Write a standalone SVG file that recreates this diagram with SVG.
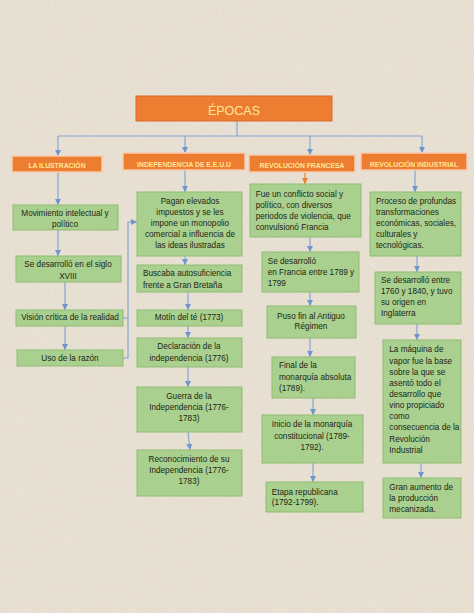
<svg xmlns="http://www.w3.org/2000/svg" width="474" height="613" viewBox="0 0 474 613">
<style>
.box{fill:#A9D08E;stroke:#8FBD72;stroke-width:1}
.hdr{fill:#ED7D31;stroke:#F8CBAD;stroke-width:1.5}
.t{font-family:"Liberation Sans",Arial,sans-serif;font-size:8.2px;fill:#1E2616}
.m{text-anchor:middle}
.h{font-family:"Liberation Sans",Arial,sans-serif;font-size:6.8px;font-weight:bold;fill:#FFE699;text-anchor:middle}
.c{fill:none;stroke:#84A7D8;stroke-width:1.2}
.co{fill:none;stroke:#ED7D31;stroke-width:1.2}
</style>
<defs>
<marker id="a" markerUnits="userSpaceOnUse" markerWidth="6" markerHeight="6" refX="6" refY="3" orient="auto"><path d="M0,0 L6,3 L0,6 z" fill="#6F95CF"/></marker>
<marker id="ao" markerUnits="userSpaceOnUse" markerWidth="6" markerHeight="6" refX="6" refY="3" orient="auto"><path d="M0,0 L6,3 L0,6 z" fill="#ED7D31"/></marker>
<filter id="noise" x="0" y="0" width="100%" height="100%"><feTurbulence type="fractalNoise" baseFrequency="0.85" numOctaves="2" seed="4"/><feColorMatrix type="matrix" values="0 0 0 0 0.55 0 0 0 0 0.5 0 0 0 0 0.42 1.4 0 0 0 -0.6"/></filter>
</defs>
<rect width="474" height="613" fill="#E8E1D4"/>
<rect width="474" height="613" filter="url(#noise)" opacity="0.35"/>

<g id="connectors">
<path class="c" d="M237,121 V136 M58,136 H422"/>
<path class="c" d="M58,136 V156" marker-end="url(#a)"/>
<path class="c" d="M185,136 V153" marker-end="url(#a)"/>
<path class="c" d="M310,136 V155" marker-end="url(#a)"/>
<path class="c" d="M422,136 V153" marker-end="url(#a)"/>
<path class="c" d="M58,172 V205" marker-end="url(#a)"/>
<path class="c" d="M58,230 V256" marker-end="url(#a)"/>
<path class="c" d="M65,282 V310" marker-end="url(#a)"/>
<path class="c" d="M65,326 V350" marker-end="url(#a)"/>
<path class="c" d="M123,318 H128"/>
<path class="c" d="M123,358 H128 V222 H137" marker-end="url(#a)"/>
<path class="c" d="M185,170 V192" marker-end="url(#a)"/>
<path class="c" d="M185,256 V265" marker-end="url(#a)"/>
<path class="c" d="M188,292 V310" marker-end="url(#a)"/>
<path class="c" d="M188,326 V338" marker-end="url(#a)"/>
<path class="c" d="M188,367 V387" marker-end="url(#a)"/>
<path class="c" d="M188,432 L190,450" marker-end="url(#a)"/>
<path class="co" d="M305,172 V184" marker-end="url(#ao)"/>
<path class="c" d="M310,237 V252" marker-end="url(#a)"/>
<path class="c" d="M310,292 V306" marker-end="url(#a)"/>
<path class="c" d="M310,338 V357" marker-end="url(#a)"/>
<path class="c" d="M313,398 V415" marker-end="url(#a)"/>
<path class="c" d="M313,463 V482" marker-end="url(#a)"/>
<path class="c" d="M415,170 V192" marker-end="url(#a)"/>
<path class="c" d="M417,256 V272" marker-end="url(#a)"/>
<path class="c" d="M417,324 V340" marker-end="url(#a)"/>
<path class="c" d="M421,463 V478" marker-end="url(#a)"/>
</g>

<g id="epocas"><rect class="hdr" x="136" y="96" width="196" height="25" style="stroke:#D9692A;stroke-width:1"/><text x="234" y="115" style="font-family:'Liberation Sans',Arial,sans-serif;font-size:12.5px;fill:#FFE699;text-anchor:middle">ÉPOCAS</text></g>

<g id="h-ilustracion"><rect class="hdr" x="12" y="156" width="90" height="16"/><text class="h" x="57" y="167.8">LA ILUSTRACIÓN</text></g>
<g id="h-independencia"><rect class="hdr" x="123" y="153" width="122" height="17"/><text class="h" x="184" y="166.5">INDEPENDENCIA DE E.E.U.U</text></g>
<g id="h-francesa"><rect class="hdr" x="249" y="155" width="106" height="17"/><text class="h" x="302" y="167.5">REVOLUCIÓN FRANCESA</text></g>
<g id="h-industrial"><rect class="hdr" x="361" y="153" width="106" height="17"/><text class="h" x="414" y="166.5">REVOLUCIÓN INDUSTRIAL</text></g>

<g id="n-movimiento"><rect class="box" x="13" y="205" width="105" height="25"/><text class="t m" x="65"><tspan x="65" y="216.3">Movimiento intelectual y</tspan><tspan x="65" y="227.3">político</tspan></text></g>
<g id="n-siglo"><rect class="box" x="16" y="256" width="105" height="26"/><text class="t m"><tspan x="68" y="267.3">Se desarrolló en el siglo</tspan><tspan x="68" y="278.7">XVIII</tspan></text></g>
<g id="n-vision"><rect class="box" x="16" y="310" width="107" height="16"/><text class="t m" x="70" y="320.3">Visión crítica de la realidad</text></g>
<g id="n-razon"><rect class="box" x="17" y="350" width="106" height="16"/><text class="t m" x="70" y="361.3">Uso de la razón</text></g>

<g id="n-pagan"><rect class="box" x="137" y="192" width="105" height="64"/><text class="t m"><tspan x="190" y="203.7">Pagan elevados</tspan><tspan x="190" y="215.3">impuestos y se les</tspan><tspan x="190" y="226.3">impone un monopolio</tspan><tspan x="190" y="237.3">comercial a influencia de</tspan><tspan x="190" y="248.3">las ideas ilustradas</tspan></text></g>
<g id="n-buscaba"><rect class="box" x="137" y="265" width="105" height="27"/><text class="t"><tspan x="143" y="276.3">Buscaba autosuficiencia</tspan><tspan x="143" y="288">frente a Gran Bretaña</tspan></text></g>
<g id="n-motin"><rect class="box" x="137" y="310" width="105" height="16"/><text class="t m" x="189" y="320.3">Motín del té (1773)</text></g>
<g id="n-declaracion"><rect class="box" x="137" y="338" width="105" height="29"/><text class="t m"><tspan x="189" y="348.7">Declaración de la</tspan><tspan x="189" y="360.7">independencia  (1776)</tspan></text></g>
<g id="n-guerra"><rect class="box" x="137" y="387" width="105" height="45"/><text class="t m"><tspan x="189" y="398.7">Guerra de la</tspan><tspan x="189" y="409.7">Independencia  (1776-</tspan><tspan x="189" y="420.7">1783)</tspan></text></g>
<g id="n-reconocimiento"><rect class="box" x="137" y="450" width="105" height="46"/><text class="t m"><tspan x="189" y="462.3">Reconocimiento de su</tspan><tspan x="189" y="473.3">Independencia  (1776-</tspan><tspan x="189" y="484.3">1783)</tspan></text></g>

<g id="n-conflicto"><rect class="box" x="250" y="184" width="111" height="53"/><text class="t"><tspan x="255.7" y="197">Fue un conflicto social y</tspan><tspan x="255.7" y="208">político, con diversos</tspan><tspan x="255.7" y="219">periodos de violencia, que</tspan><tspan x="255.7" y="229.7">convulsionó Francia</tspan></text></g>
<g id="n-francia"><rect class="box" x="262" y="252" width="97" height="40"/><text class="t"><tspan x="267.7" y="263.7">Se desarrolló</tspan><tspan x="267.7" y="274.7">en Francia entre 1789 y</tspan><tspan x="267.7" y="285.7">1799</tspan></text></g>
<g id="n-puso"><rect class="box" x="267" y="306" width="89" height="32"/><text class="t m"><tspan x="311" y="318.7">Puso fin al Antiguo</tspan><tspan x="311" y="329">Régimen</tspan></text></g>
<g id="n-final"><rect class="box" x="272" y="357" width="83" height="41"/><text class="t"><tspan x="279" y="368">Final de la</tspan><tspan x="279" y="379.7">monarquía absoluta</tspan><tspan x="279" y="391.3">(1789).</tspan></text></g>
<g id="n-inicio"><rect class="box" x="262" y="415" width="101" height="48"/><text class="t m"><tspan x="312" y="427.3">Inicio de la monarquía</tspan><tspan x="312" y="438.7">constitucional (1789-</tspan><tspan x="312" y="449.7">1792).</tspan></text></g>
<g id="n-etapa"><rect class="box" x="266" y="482" width="97" height="30"/><text class="t"><tspan x="271.7" y="494.7">Etapa republicana</tspan><tspan x="271.7" y="505.3">(1792-1799).</tspan></text></g>

<g id="n-proceso"><rect class="box" x="370" y="192" width="91" height="64"/><text class="t"><tspan x="376" y="203.7">Proceso de profundas</tspan><tspan x="376" y="214.7">transformaciones</tspan><tspan x="376" y="225.7">económicas, sociales,</tspan><tspan x="376" y="237">culturales y</tspan><tspan x="376" y="248">tecnológicas.</tspan></text></g>
<g id="n-1760"><rect class="box" x="375" y="272" width="86" height="52"/><text class="t"><tspan x="381" y="283">Se desarrolló entre</tspan><tspan x="381" y="294">1760 y 1840, y tuvo</tspan><tspan x="381" y="305.3">su origen en</tspan><tspan x="381" y="316.3">Inglaterra</tspan></text></g>
<g id="n-maquina"><rect class="box" x="383" y="340" width="78" height="123"/><text class="t"><tspan x="389.3" y="352.3">La máquina de</tspan><tspan x="389.3" y="363.7">vapor fue la base</tspan><tspan x="389.3" y="374.7">sobre la que se</tspan><tspan x="389.3" y="386.3">asentó todo el</tspan><tspan x="389.3" y="397">desarrollo que</tspan><tspan x="389.3" y="408">vino propiciado</tspan><tspan x="389.3" y="419">como</tspan><tspan x="389.3" y="430.3">consecuencia de la</tspan><tspan x="389.3" y="442">Revolución</tspan><tspan x="389.3" y="453">Industrial</tspan></text></g>
<g id="n-gran"><rect class="box" x="383" y="478" width="78" height="40"/><text class="t"><tspan x="389.3" y="490.3">Gran aumento de</tspan><tspan x="389.3" y="501.3">la producción</tspan><tspan x="389.3" y="512.3">mecanizada.</tspan></text></g>
</svg>
